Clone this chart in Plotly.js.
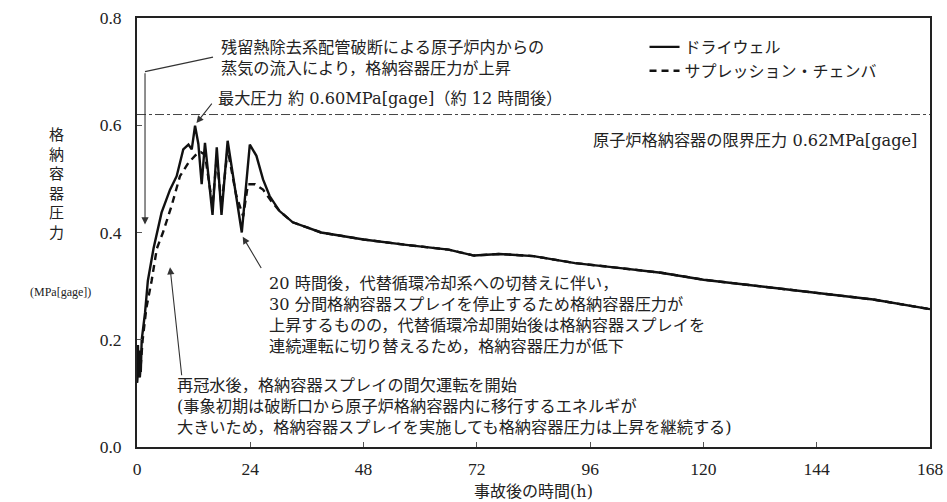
<!DOCTYPE html>
<html>
<head>
<meta charset="utf-8">
<script src="https://cdn.plot.ly/plotly-3.0.1.min.js"></script>
<style>html,body{margin:0;padding:0;background:#fff;}#chart{width:947px;height:502px;}</style>
</head>
<body>
<div id="chart"></div>
<script>
// ---- data (hours after accident, MPa[gage]) ----
const timeDW = [0, 0.2, 0.4, 0.6, 0.8, 1.0, 1.7, 2.3, 3.5, 5.2, 7.0, 8.4, 9.8, 10.9, 11.6, 12.3, 13.0, 13.7, 14.4, 16.0, 16.9, 17.9, 19.2, 22.2, 23.9, 25.3, 26.7, 28.1, 30.2, 33, 39, 48, 57, 66, 71.4, 76.8, 84, 92.8, 102, 111, 120, 129, 138, 147, 156, 168];
const pressDW = [0.12, 0.19, 0.13, 0.18, 0.14, 0.20, 0.25, 0.31, 0.37, 0.437, 0.48, 0.505, 0.555, 0.564, 0.555, 0.599, 0.565, 0.49, 0.567, 0.433, 0.559, 0.433, 0.571, 0.40, 0.564, 0.543, 0.499, 0.468, 0.44, 0.419, 0.40, 0.387, 0.377, 0.368, 0.357, 0.36, 0.356, 0.343, 0.334, 0.325, 0.312, 0.303, 0.293, 0.284, 0.275, 0.257];

const timeSC = [0, 0.3, 0.6, 1.2, 2.0, 3.1, 4.2, 5.5, 7.3, 9.1, 10.9, 12.6, 13.5, 14.4, 16.0, 16.9, 17.9, 19.2, 21.0, 22.5, 23.5, 25.0, 26.7, 28.5, 30.2, 33, 39, 48, 57, 66, 71.4, 76.8, 84, 92.8, 102, 111, 120, 129, 138, 147, 156, 168];
const pressSC = [0.12, 0.16, 0.13, 0.20, 0.26, 0.31, 0.37, 0.40, 0.449, 0.505, 0.53, 0.546, 0.55, 0.545, 0.45, 0.54, 0.45, 0.555, 0.47, 0.43, 0.49, 0.49, 0.48, 0.458, 0.44, 0.419, 0.40, 0.387, 0.377, 0.368, 0.357, 0.36, 0.356, 0.343, 0.334, 0.325, 0.312, 0.303, 0.293, 0.284, 0.275, 0.257];

const seriesNames = ["ドライウェル", "サプレッション・チェンバ"];
const xTicks = [0, 24, 48, 72, 96, 120, 144, 168];
const yTicks = [0.0, 0.2, 0.4, 0.6, 0.8];
const limitPressure = 0.62;

const JP = "'DejaVu Serif', 'Noto Sans CJK JP', serif";
const NUM = "'Liberation Serif', serif";
const txtColor = "#222";

const traces = [
  {x: timeDW, y: pressDW, name: seriesNames[0], type: "scatter", mode: "lines",
   line: {color: "#111", width: 2.4, dash: "solid"}},
  {x: timeSC, y: pressSC, name: seriesNames[1], type: "scatter", mode: "lines",
   line: {color: "#111", width: 2.4, dash: "7px,5px"}}
];

function ann(text, x, y, xanchor, extra) {
  return Object.assign({text: text, xref: "paper", yref: "paper", x: x, y: y,
    xanchor: xanchor, yanchor: "middle", align: xanchor === "right" ? "right" : "left",
    showarrow: false, font: {family: JP, size: 16.2, color: txtColor}}, extra || {});
}
function arrow(tipX, tipY, tailX, tailY) {
  return {x: tipX, y: tipY, ax: tailX, ay: tailY, xref: "x", yref: "y", axref: "x", ayref: "y",
    text: "", showarrow: true, arrowhead: 2, arrowsize: 1.3, arrowwidth: 1.1,
    arrowcolor: "#333", standoff: 0, startstandoff: 0};
}

const layout = {
  width: 947, height: 502,
  margin: {l: 137, r: 17, t: 18, b: 55},
  paper_bgcolor: "#fff", plot_bgcolor: "#fff",
  showlegend: true,
  legend: {x: 0.64, y: 0.972, xanchor: "left", yanchor: "top", bgcolor: "rgba(0,0,0,0)",
    font: {family: JP, size: 16, color: txtColor}, tracegroupgap: 0, itemwidth: 30},
  xaxis: {range: [0, 168], tickvals: xTicks, ticktext: xTicks.map(String),
    ticks: "inside", ticklen: 5, tickcolor: "#555", showgrid: false, zeroline: false,
    showline: true, linecolor: "#222", linewidth: 2, mirror: true, ticklabelstandoff: 5,
    tickfont: {family: NUM, size: 17.5, color: txtColor},
    title: {text: "事故後の時間(h)", font: {family: JP, size: 16, color: txtColor}, standoff: 8}},
  yaxis: {range: [0, 0.8], tickvals: yTicks, tickformat: ".1f",
    ticks: "inside", ticklen: 5, tickcolor: "#555", showgrid: false, zeroline: false,
    showline: true, linecolor: "#222", linewidth: 2, mirror: true, ticklabelstandoff: 10,
    tickfont: {family: NUM, size: 17.5, color: txtColor}},
  shapes: [
    {type: "line", xref: "paper", yref: "y", x0: 0, x1: 1, y0: limitPressure, y1: limitPressure,
     line: {color: "#444", width: 1, dash: "dashdot"}},
    {type: "line", xref: "x", yref: "y", x0: 16.1, y0: 0.727, x1: 1.7, y1: 0.70,
     line: {color: "#333", width: 1.1}}
  ],
  annotations: [
    ann("格<br>納<br>容<br>器<br>圧<br>力", -0.101, 0.614, "center", {align: "center", font: {family: JP, size: 15, color: txtColor}}),
    ann("(MPa[gage])", -0.097, 0.362, "center", {align: "center", font: {family: NUM, size: 12, color: txtColor}}),
    ann("残留熱除去系配管破断による原子炉内からの<br>蒸気の流入により，格納容器圧力が上昇", 0.104, 0.907, "left"),
    ann("最大圧力 約 0.60MPa[gage]（約 12 時間後）", 0.099, 0.8135, "left"),
    ann("原子炉格納容器の限界圧力 0.62MPa[gage]", 0.986, 0.7156, "right"),
    ann("20 時間後，代替循環冷却系への切替えに伴い，<br>30 分間格納容器スプレイを停止するため格納容器圧力が<br>上昇するものの，代替循環冷却開始後は格納容器スプレイを<br>連続運転に切り替えるため，格納容器圧力が低下", 0.164, 0.308, "left"),
    ann("再冠水後，格納容器スプレイの間欠運転を開始<br>(事象初期は破断口から原子炉格納容器内に移行するエネルギが<br>大きいため，格納容器スプレイを実施しても格納容器圧力は上昇を継続する)", 0.048, 0.094, "left"),
    arrow(1.7, 0.415, 1.7, 0.70),
    arrow(12.6, 0.604, 16.1, 0.643),
    arrow(22.4, 0.392, 26.5, 0.331),
    arrow(7.0, 0.335, 9.5, 0.131)
  ]
};

Plotly.newPlot("chart", traces, layout, {displayModeBar: false, staticPlot: true});
</script>
</body>
</html>
